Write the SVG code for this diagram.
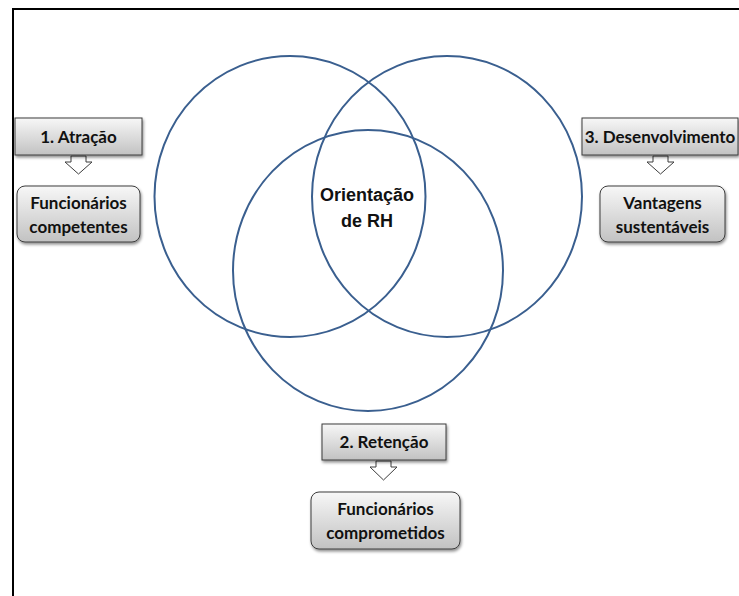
<svg xmlns="http://www.w3.org/2000/svg" width="739" height="596" viewBox="0 0 739 596">
<defs>
<linearGradient id="g" x1="0" y1="0" x2="0" y2="1">
<stop offset="0" stop-color="#f7f7f7"/>
<stop offset="1" stop-color="#c2c2c2"/>
</linearGradient>
<filter id="sh" x="-10%" y="-10%" width="130%" height="140%">
<feDropShadow dx="1" dy="2" stdDeviation="1.5" flood-color="#000" flood-opacity="0.45"/>
</filter>
<style>
.c{fill:none;stroke:#3a5f8f;stroke-width:2}
.b{fill:url(#g);stroke:#3c3c3c;stroke-width:1;filter:url(#sh)}
.a{fill:#fff;stroke:#3c3c3c;stroke-width:1}
.t{font-family:Lato,"Liberation Sans",sans-serif;font-weight:bold;font-size:17px;fill:#111;text-anchor:middle}
.o{font-family:"Liberation Sans",Arial,sans-serif;font-weight:bold;font-size:18px;fill:#111;text-anchor:middle}
</style>
</defs>
<rect width="739" height="596" fill="#fff"/>
<path d="M13,596 V9 H739" fill="none" stroke="#000" stroke-width="2"/>
<g id="circles">
<ellipse class="c" cx="290" cy="196.5" rx="135.5" ry="140.5"/>
<ellipse class="c" cx="447" cy="196.5" rx="135" ry="140.5"/>
<ellipse class="c" cx="368" cy="270.5" rx="135" ry="140.5"/>
</g>
<g id="center-label">
<text class="o" x="367" y="201">Orientação</text>
<text class="o" x="367" y="227">de RH</text>
</g>
<g id="connectors">
<path class="a" d="M71,156 H86 V162 H92 L78.5,174 L65,162 H71 Z"/>
<path class="a" d="M653,156 H668 V162 H674 L660.5,174 L647,162 H653 Z"/>
<path class="a" d="M376,461 H391 V467 H397 L383.5,480 L370,467 H376 Z"/>
</g>
<g id="n1">
<rect class="b" x="15" y="118" width="127" height="37"/>
<text class="t" x="78.5" y="143">1. Atração</text>
</g>
<g id="n1b">
<rect class="b" x="17" y="186" width="123" height="56" rx="8"/>
<text class="t" x="78.5" y="209">Funcionários</text>
<text class="t" x="78.5" y="233">competentes</text>
</g>
<g id="n3">
<rect class="b" x="582" y="118" width="156" height="37"/>
<text class="t" x="660" y="143">3. Desenvolvimento</text>
</g>
<g id="n3b">
<rect class="b" x="600" y="186" width="125" height="56" rx="8"/>
<text class="t" x="662.5" y="209">Vantagens</text>
<text class="t" x="662.5" y="233">sustentáveis</text>
</g>
<g id="n2">
<rect class="b" x="322" y="424" width="124" height="36"/>
<text class="t" x="384" y="448">2. Retenção</text>
</g>
<g id="n2b">
<rect class="b" x="311" y="492" width="149" height="57" rx="8"/>
<text class="t" x="385.5" y="515">Funcionários</text>
<text class="t" x="385.5" y="539">comprometidos</text>
</g>
</svg>
